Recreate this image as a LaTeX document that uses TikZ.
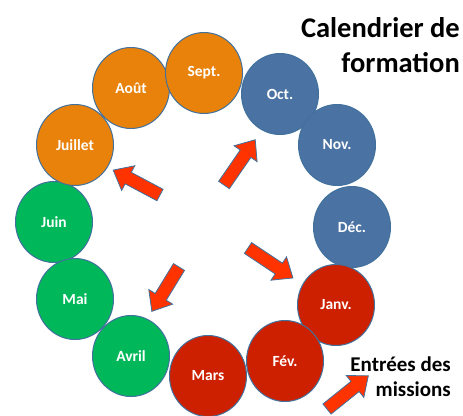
\documentclass[tikz,border=0pt]{standalone}
\usepackage{fontspec}
\setmainfont{Carlito}
\usetikzlibrary{shapes.geometric}
\definecolor{corange}{HTML}{E8820A}
\definecolor{cblue}{HTML}{4A72A2}
\definecolor{cgreen}{HTML}{00B85A}
\definecolor{cred}{HTML}{CC2000}
\definecolor{cline}{HTML}{41719C}
\definecolor{carrow}{HTML}{FF3300}
\begin{document}
\begin{tikzpicture}[x=1pt,y=-1pt,
  month/.style={ellipse,draw=cline,line width=1pt,minimum width=77pt,minimum height=81pt,inner sep=0pt,
     text=white,font=\bfseries\fontsize{15.5}{18}\selectfont},
  orangem/.style={month,fill=corange},
  bluem/.style={month,fill=cblue},
  greenm/.style={month,fill=cgreen},
  redm/.style={month,fill=cred},
  blockarrow/.style={fill=carrow,draw=cline,line width=0.8pt,line join=miter},
  title/.style={anchor=base east,inner sep=0pt,font=\bfseries\fontsize{28.5}{34}\selectfont},
  note/.style={anchor=base east,inner sep=0pt,font=\bfseries\fontsize{21}{25}\selectfont}]
\useasboundingbox (0,0) rectangle (463,415);
% circles
\node[bluem]   (oct)  at (280,94)  {Oct.};
\node[bluem]   (nov)  at (337,145) {Nov.};
\node[bluem]   (dec)  at (352,227) {Déc.};
\node[redm]    (jan)  at (336,305) {Janv.};
\node[redm]    (mar)  at (208,376) {Mars};
\node[redm]    (fev)  at (285,361) {Fév.};
\node[greenm]  (juin) at (54,222)  {Juin};
\node[greenm]  (mai)  at (75,299)  {Mai};
\node[greenm]  (avr)  at (131,356) {Avril};
\node[orangem] (juil) at (75,145)  {Juillet};
\node[orangem] (aout) at (131,88)  {Août};
\node[orangem] (sept) at (204,73)  {Sept.};
% block arrows: tail x, tail y, angle, length
\foreach \n/\x/\y/\a/\l in {a1/224/185/55.4/55, a2/160/195/152/53, a3/248/248/-33.7/54, a4/179/267/-121.5/52, a5/327/409/38.8/53}{
  \begin{scope}[shift={(\x,\y)},rotate=\a]
    \coordinate (\n-tail) at (0,0);
    \coordinate (\n-tip) at (\l,0);
    \draw[blockarrow] (0,-6.5) -- (\l-17,-6.5) -- (\l-17,-14) -- (\n-tip) -- (\l-17,14) -- (\l-17,6.5) -- (0,6.5) -- cycle;
  \end{scope}
}
% texts
\node[title] (t1) at (460,37) {Calendrier de};
\node[title] (t2) at (460,72) {formation};
\node[note] (e1) at (451,371) {Entrées des};
\node[note] (e2) at (451,396) {missions};
\end{tikzpicture}
\end{document}
